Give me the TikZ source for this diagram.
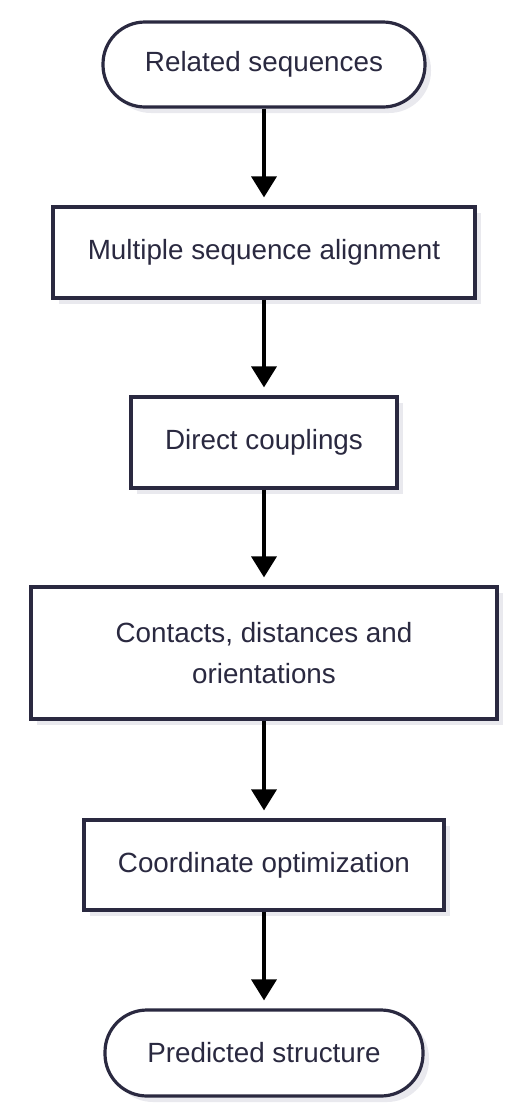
\documentclass[tikz,border=0pt]{standalone}
\usepackage{fontspec}
\setmainfont{Liberation Sans}
\usetikzlibrary{arrows.meta,shadows}

\definecolor{boxline}{HTML}{2A2940}
\definecolor{boxtext}{HTML}{2A2940}
\definecolor{boxshade}{HTML}{E9E9EE}

\begin{document}
\begin{tikzpicture}[x=1pt,y=1pt]
        \tikzstyle{every node}+=[inner sep=0pt, text=boxtext,
          font=\fontsize{27.8}{41.7}\selectfont]
        \tikzstyle{procbox}=[draw=boxline, line width=3.2pt, fill=white,
          drop shadow={shadow xshift=6pt, shadow yshift=-6pt, fill=boxshade, opacity=1}]
        \tikzstyle{termbox}=[procbox, rounded corners=42pt]
        \tikzstyle{flow}=[line width=3.6pt, black, shorten >=8pt,
          -{Triangle[length=21pt,width=25pt]}]
        \useasboundingbox (0,0) rectangle (532,-1120);
        % the six stages, top to bottom
        \node [termbox, minimum width=322pt, minimum height=85pt] (rel) at (264,-64.5) {Related sequences};
        \node [procbox, minimum width=422pt, minimum height=91pt] (msa) at (264,-252.5) {Multiple sequence alignment};
        \node [procbox, minimum width=266pt, minimum height=91pt] (dca) at (264,-442.5) {Direct couplings};
        \node [procbox, minimum width=466pt, minimum height=132pt, align=center] (geo) at (264,-653) {Contacts, distances and\\orientations};
        \node [procbox, minimum width=360pt, minimum height=90pt] (opt) at (264,-865) {Coordinate optimization};
        \node [termbox, minimum width=318pt, minimum height=86pt] (pred) at (264,-1053) {Predicted structure};
        % arrows between stages
        \foreach \from/\to in {rel/msa, msa/dca, dca/geo, geo/opt, opt/pred}
          \draw [flow] (\from.south) -- (\to.north);
\end{tikzpicture}
\end{document}
